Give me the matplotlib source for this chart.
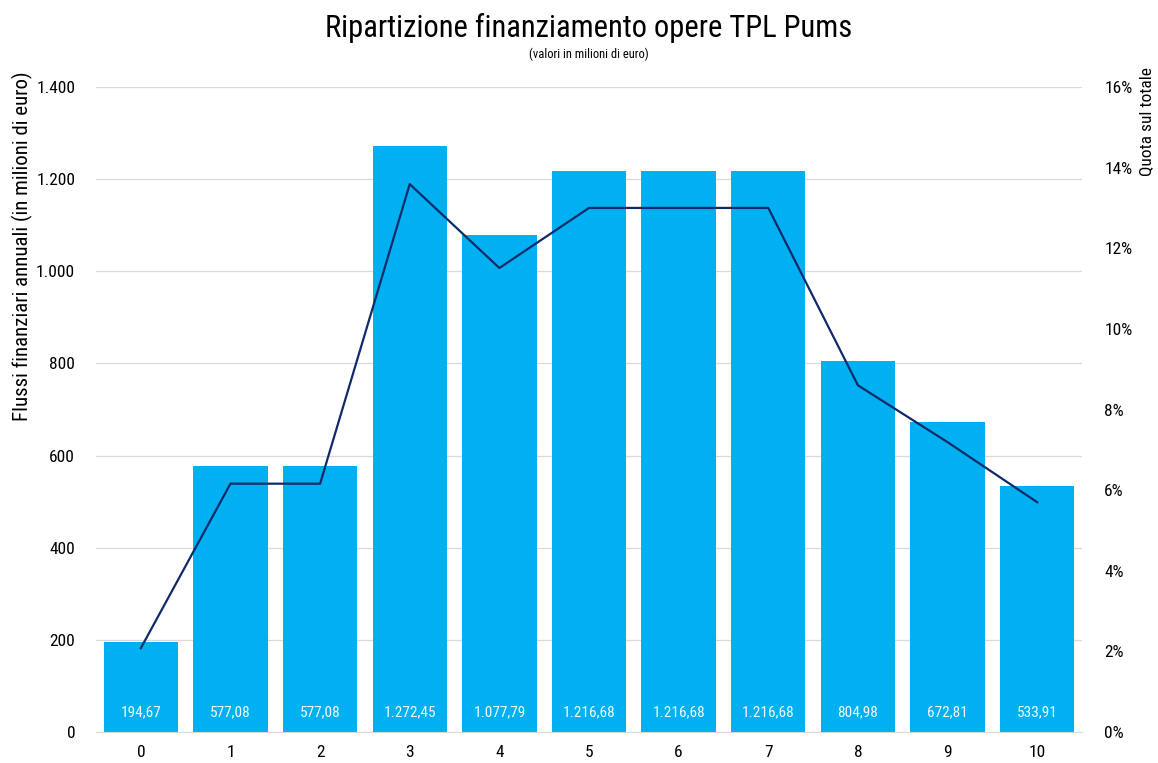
import matplotlib
matplotlib.use("Agg")
import os
import matplotlib.pyplot as plt
from matplotlib import font_manager
from matplotlib.font_manager import FontProperties
from matplotlib.ticker import FuncFormatter, MultipleLocator

# Data: annual funding flows (million euro) and share of total
years = [0, 1, 2, 3, 4, 5, 6, 7, 8, 9, 10]
flows = [194.67, 577.08, 577.08, 1272.45, 1077.79, 1216.68, 1216.68, 1216.68, 804.98, 672.81, 533.91]
share_pct = [2.08, 6.16, 6.16, 13.59, 11.51, 13.00, 13.00, 13.00, 8.60, 7.19, 5.70]


def pick_condensed_font():
    """Return the path of a narrow sans-serif font, if one is installed."""
    files = [f.fname for f in font_manager.fontManager.ttflist]
    files += font_manager.findSystemFonts()
    prefs = ["liberationsansnarrow-regular", "arialn.", "arial narrow",
             "robotocondensed-regular", "opensans-condensed", "opensanscondensed-regular",
             "notosans-condensed.", "notosans-condensedregular", "dejavusanscondensed."]
    low = {os.path.basename(p).lower(): p for p in files}
    for pref in prefs:
        for name, path in low.items():
            if name.startswith(pref) or pref in name:
                if "bold" in name or "italic" in name or "oblique" in name:
                    continue
                return path
    return None


font_path = pick_condensed_font()


def fp(size):
    if font_path:
        return FontProperties(fname=font_path, size=size)
    return FontProperties(family=["Liberation Sans", "DejaVu Sans"], size=size, stretch="condensed")


BAR = "#00B0F0"
LINE = "#0F2A6B"
GRID = "#D9D9D9"


def it_num(v, decimals=0):
    s = f"{v:,.{decimals}f}"
    return s.replace(",", "X").replace(".", ",").replace("X", ".")


fig = plt.figure(figsize=(11.58, 7.63), dpi=100)
ax = fig.add_axes([0.0829, 0.0406, 0.8515, 0.8454])
ax2 = ax.twinx()

ax.bar(years, flows, width=0.83, color=BAR, zorder=2)
for x, v in zip(years, flows):
    ax.text(x, 42, it_num(v, 2), ha="center", va="center", color="#F2FAFF",
            fontproperties=fp(11), zorder=3)

ax2.plot(years, [p / 100 for p in share_pct], color=LINE, lw=1.6, zorder=4)

ax.set_xlim(-0.5, 10.5)
ax.set_ylim(0, 1400)
ax.yaxis.set_major_locator(MultipleLocator(200))
ax.yaxis.set_major_formatter(FuncFormatter(lambda v, p: it_num(v)))
ax.set_xticks(years)
ax.grid(axis="y", color=GRID, lw=0.9, zorder=0)
ax.set_axisbelow(True)

ax2.set_ylim(0, 0.16)
ax2.yaxis.set_major_locator(MultipleLocator(0.02))
ax2.yaxis.set_major_formatter(FuncFormatter(lambda v, p: f"{v * 100:.0f}%"))

for a in (ax, ax2):
    for s in a.spines.values():
        s.set_visible(False)
    a.tick_params(length=0, colors="#000000")
ax.spines["bottom"].set_visible(True)
ax.spines["bottom"].set_color(GRID)
ax.tick_params(axis="y", pad=15)
ax.tick_params(axis="x", pad=9)
ax2.tick_params(axis="y", pad=16)

fig.canvas.draw()
for lab in ax.get_xticklabels() + ax.get_yticklabels() + ax2.get_yticklabels():
    lab.set_fontproperties(fp(12.5))

ax2.set_zorder(ax.get_zorder() + 1)
ax2.patch.set_visible(False)

fig.text(0.5086, 0.963, "Ripartizione finanziamento opere TPL Pums", ha="center", va="center",
         fontproperties=fp(22))
fig.text(0.5086, 0.929, "(valori in milioni di euro)", ha="center", va="center", fontproperties=fp(9))
fig.text(0.019, 1 - 246 / 763, "Flussi finanziari annuali (in milioni di euro)", rotation=90,
         ha="center", va="center", fontproperties=fp(15))
fig.text(0.9905, 1 - 122 / 763, "Quota sul totale", rotation=90, ha="center", va="center",
         fontproperties=fp(12.5))

fig.savefig("out.png", dpi=100)
